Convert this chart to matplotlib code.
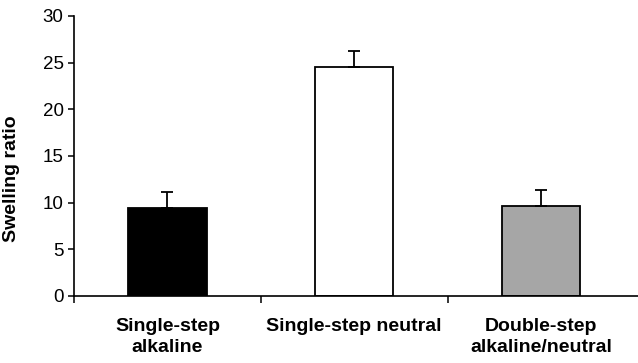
import matplotlib
matplotlib.use("Agg")
import matplotlib.pyplot as plt

plt.rcParams['font.family'] = ['Liberation Sans', 'DejaVu Sans']

categories = ["Single-step\nalkaline", "Single-step neutral", "Double-step\nalkaline/neutral"]
values = [9.45, 24.55, 9.6]
errors = [1.7, 1.7, 1.7]
colors = ["#000000", "#ffffff", "#a6a6a6"]

fig = plt.figure(figsize=(6.38, 3.63), dpi=100)
ax = fig.add_axes([0.116, 0.185, 0.884, 0.771])

x = [1, 2, 3]
ax.bar(x, values, width=0.42, color=colors, edgecolor="black", linewidth=1.3, zorder=2)
ax.errorbar(x, values, yerr=[[0, 0, 0], errors], fmt="none", ecolor="black",
            elinewidth=1.3, capsize=4, capthick=1.3, zorder=3)

ax.set_xlim(0.5, 3.52)
ax.set_ylim(0, 30)
ax.set_yticks(range(0, 31, 5))
ax.tick_params(axis='y', labelsize=13.5, direction='out', length=4.5, width=1.1, pad=3)
ax.set_xticks([0.5, 1.5, 2.5])
ax.set_xticklabels([])
ax.set_xticks(x, minor=True)
ax.set_xticklabels(categories, minor=True, fontsize=14, fontweight='bold', linespacing=1.3)
ax.tick_params(axis='x', which='major', direction='out', length=5, width=1.1)
ax.tick_params(axis='x', which='minor', length=0, pad=16)
ax.set_ylabel("Swelling ratio", fontsize=14, fontweight='bold', labelpad=10)
ax.yaxis.set_label_coords(-0.095, 0.42)

for s in ['top', 'right']:
    ax.spines[s].set_visible(False)
for s in ['left', 'bottom']:
    ax.spines[s].set_linewidth(1.2)

fig.savefig("out.png", dpi=100)
